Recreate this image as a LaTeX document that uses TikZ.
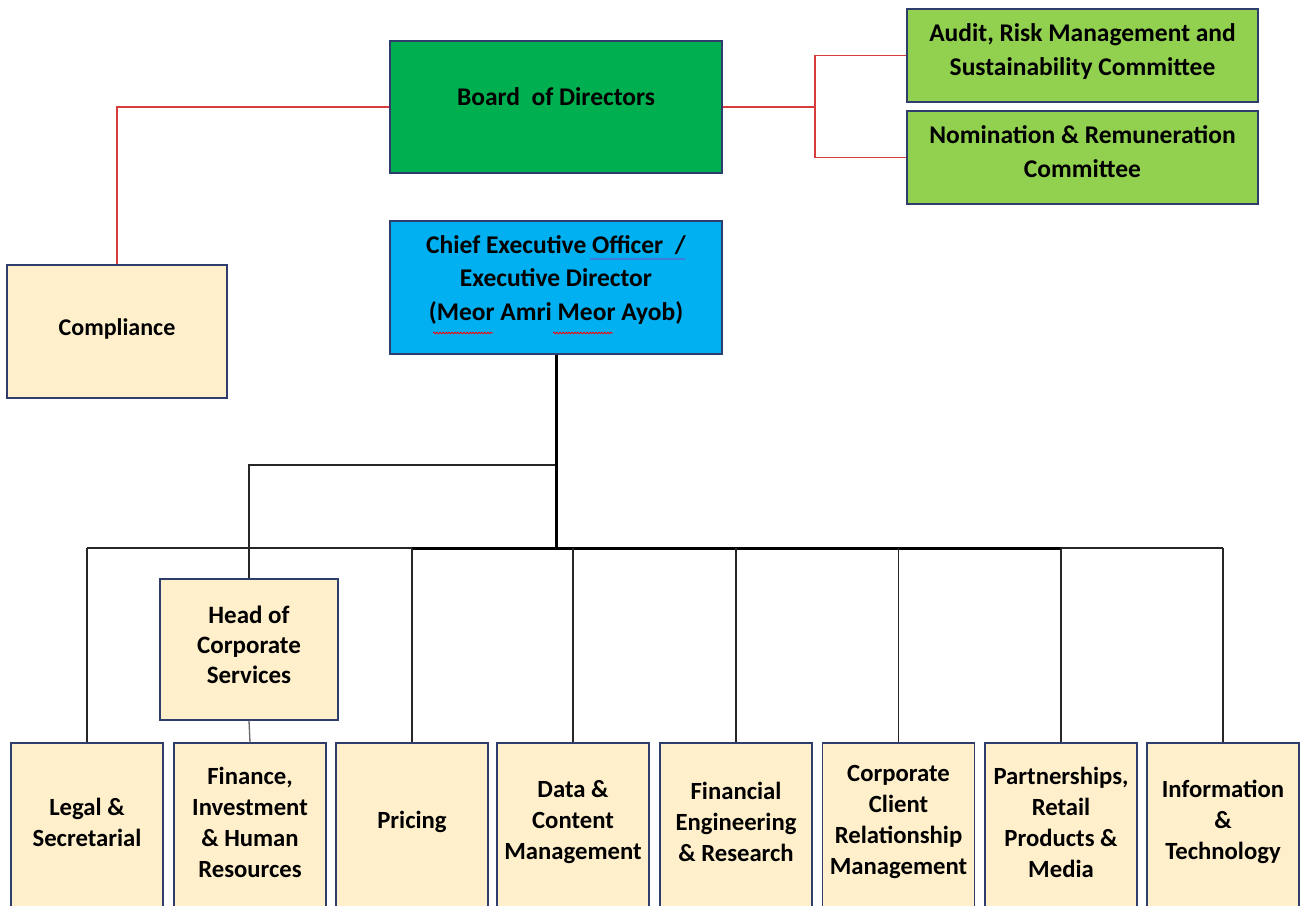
\documentclass[tikz,border=0pt]{standalone}
\usepackage{fontspec}
\setmainfont{Carlito}
\usetikzlibrary{decorations.pathmorphing}
\definecolor{boardgreen}{HTML}{00B050}
\definecolor{comgreen}{HTML}{92D050}
\definecolor{ceoblue}{HTML}{00B0F0}
\definecolor{pale}{HTML}{FFEFCA}
\definecolor{edgeblue}{HTML}{2E3D6B}
\definecolor{redline}{HTML}{D83B3B}
\definecolor{spellblue}{HTML}{3C7DD9}
\begin{document}
\begin{tikzpicture}[x=1pt,y=-1pt,
  box/.style={draw=edgeblue, line width=1.2pt, inner sep=0pt},
  palebox/.style={box, fill=pale},
  lowbox/.style={palebox, minimum width=152pt, minimum height=177pt},
  txt/.style={font=\bfseries\fontsize{24.7}{31}\selectfont, align=center, inner sep=0pt, text=black},
  redc/.style={draw=redline, line width=1.6pt},
  blk/.style={draw=black!85, line width=1.3pt},
  trunk/.style={draw=black, line width=3pt},
  spell/.style={draw=red, line width=0.8pt, decorate, decoration={snake, amplitude=0.8pt, segment length=3pt}}]
\useasboundingbox (0,0) rectangle (1303,905);

% boxes
\node[box, fill=boardgreen, minimum width=332pt, minimum height=132pt] (board) at (556,107) {};
\node[box, fill=comgreen, minimum width=351pt, minimum height=93pt] (audit) at (1082.5,55.5) {};
\node[box, fill=comgreen, minimum width=351pt, minimum height=93pt] (nom) at (1082.5,157.5) {};
\node[palebox, minimum width=220pt, minimum height=133pt] (comp) at (117,331.5) {};
\node[box, fill=ceoblue, minimum width=332pt, minimum height=133pt] (ceo) at (556,287.5) {};
\node[palebox, minimum width=178pt, minimum height=141pt] (head) at (249,649.5) {};
\node[lowbox] (legal) at (87,831.5) {};
\node[lowbox] (fin) at (250,831.5) {};
\node[lowbox] (pricing) at (412,831.5) {};
\node[lowbox] (data) at (573,831.5) {};
\node[lowbox] (fineng) at (736,831.5) {};
\node[lowbox] (corp) at (898.5,831.5) {};
\node[lowbox] (partner) at (1061,831.5) {};
\node[lowbox] (it) at (1223,831.5) {};

% texts
\node[txt, font=\bfseries\fontsize{25.5}{31}\selectfont] (board-t) at (556,97) {Board\ \ of Directors};
\node[txt, font=\bfseries\fontsize{25.5}{34}\selectfont] (audit-t) at (1082.5,52) {Audit, Risk Management and\\Sustainability Committee};
\node[txt, font=\bfseries\fontsize{25.5}{34}\selectfont] (nom-t) at (1082.5,152) {Nomination \& Remuneration\\Committee};
\node[txt, font=\bfseries\fontsize{24}{31}\selectfont] (comp-t) at (117,329) {Compliance};
\node[txt, font=\bfseries\fontsize{25.5}{33.5}\selectfont] (ceo-t) at (556,280) {Chief Executive Officer\ \ /\\Executive Director\\(Meor Amri Meor Ayob)};
\node[txt, font=\bfseries\fontsize{25}{30}\selectfont] (head-t) at (249,645) {Head of\\Corporate\\Services};
\node[txt] (legal-t) at (87,822.5) {Legal \&\\Secretarial};
\node[txt] (fin-t) at (250,822.5) {Finance,\\Investment\\\& Human\\Resources};
\node[txt] (pricing-t) at (412,822) {Pricing};
\node[txt] (data-t) at (573,822) {Data \&\\Content\\Management};
\node[txt] (fineng-t) at (736,822) {Financial\\Engineering\\\& Research};
\node[txt] (corp-t) at (898.5,822) {Corporate\\Client\\Relationship\\Management};
\node[txt] (partner-t) at (1061,822) {Partnerships,\\Retail\\Products \&\\Media};
\node[txt] (it-t) at (1223,822) {Information\\\&\\Technology};

% spell-check marks
\coordinate (u1a) at (590,259); \coordinate (u1b) at (685,259);
\draw[draw=spellblue, line width=2.6pt] (u1a) -- (u1b);
\coordinate (s1a) at (433,333); \coordinate (s1b) at (493,333);
\coordinate (s2a) at (553,333); \coordinate (s2b) at (613,333);
\draw[spell] (s1a) -- (s1b);
\draw[spell] (s2a) -- (s2b);

% red connectors
\coordinate (rj) at (815,107);
\draw[redc] (board.west) -| (comp.north);
\draw[redc] (board.east) -- (rj);
\draw[redc] (audit.west) -| (rj) |- (nom.west);

% black connectors
\coordinate (bus) at (556,548);
\coordinate (hj) at (556,465);
\draw[blk] (hj) -| (head.north);
\draw[blk] (legal.north |- bus) -- (it.north |- bus);
\draw[trunk] (pricing.north |- bus) -- (partner.north |- bus);
\draw[trunk] (ceo.south) -- (bus);
\foreach \n in {legal,pricing,data,fineng,corp,partner,it}
  \draw[blk] (\n.north |- bus) -- (\n.north);
\draw[draw=black!60, line width=1.3pt] (head.south) -- (fin.north);
\end{tikzpicture}
\end{document}
